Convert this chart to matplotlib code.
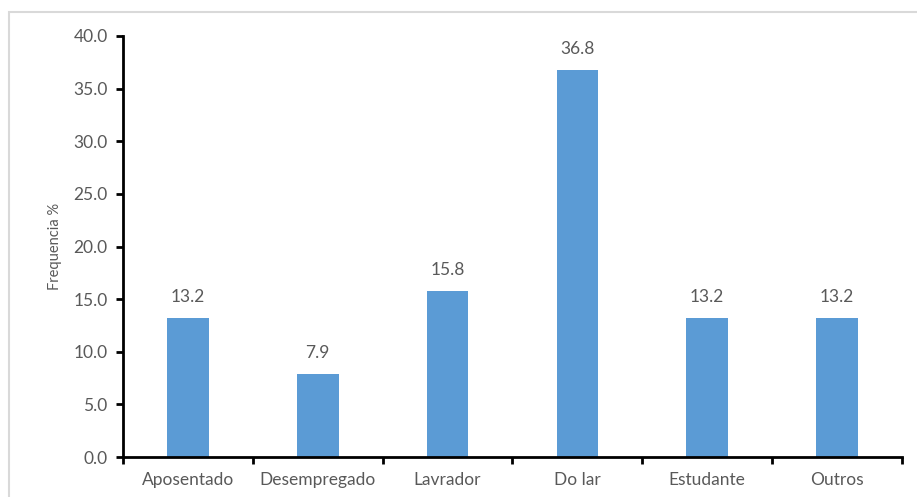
import matplotlib
matplotlib.use("Agg")
import matplotlib.pyplot as plt
from matplotlib.patches import Rectangle
import numpy as np

categories = ["Aposentado", "Desempregado", "Lavrador", "Do lar", "Estudante", "Outros"]
values = [13.2, 7.9, 15.8, 36.8, 13.2, 13.2]
y_ticks = [0, 5, 10, 15, 20, 25, 30, 35, 40]

plt.rcParams["font.family"] = ["Lato", "DejaVu Sans"]
text_color = "#595959"
bar_color = "#5B9BD5"

fig = plt.figure(figsize=(9.17, 4.97), dpi=100)
fig.patch.set_facecolor("white")

# light frame around the chart area (left and top edges visible)
fig.add_artist(Rectangle((9 / 917, -0.05), 1.2, 1 - 12 / 497 + 0.05,
                         transform=fig.transFigure, fill=False,
                         edgecolor="#D9D9D9", linewidth=1.5))

ax = fig.add_axes([123 / 917, 1 - 457 / 497, (902 - 123) / 917, (457 - 36) / 497])

x = np.arange(len(categories))
bars = ax.bar(x, values, width=0.32, color=bar_color, zorder=2)

for xi, v in zip(x, values):
    ax.text(xi, v + 1.2, f"{v:.1f}", ha="center", va="bottom",
            fontsize=12.5, color=text_color)

ax.set_xlim(-0.5, len(categories) - 0.5)
ax.set_ylim(0, 40)
ax.set_yticks(y_ticks)
ax.set_yticklabels([f"{t:.1f}" for t in y_ticks])

# category boundary ticks, labels centred under each bar
ax.set_xticks(np.arange(-0.5, len(categories), 1.0))
ax.set_xticklabels([])
ax.set_xticks(x, minor=True)
ax.set_xticklabels(categories, minor=True)
ax.tick_params(axis="x", which="minor", length=0, pad=11,
               labelsize=12.5, labelcolor=text_color)
ax.tick_params(axis="x", which="major", length=5, width=2, direction="out", color="black")
ax.tick_params(axis="y", length=5, width=2, direction="out", color="black",
               labelsize=12.5, labelcolor=text_color, pad=6)

for side in ["top", "right"]:
    ax.spines[side].set_visible(False)
for side in ["left", "bottom"]:
    ax.spines[side].set_linewidth(2)
    ax.spines[side].set_color("black")

ax.set_ylabel("Frequencia %", fontsize=10.5, color=text_color, labelpad=8)

fig.savefig("out.png", dpi=100, facecolor="white")
